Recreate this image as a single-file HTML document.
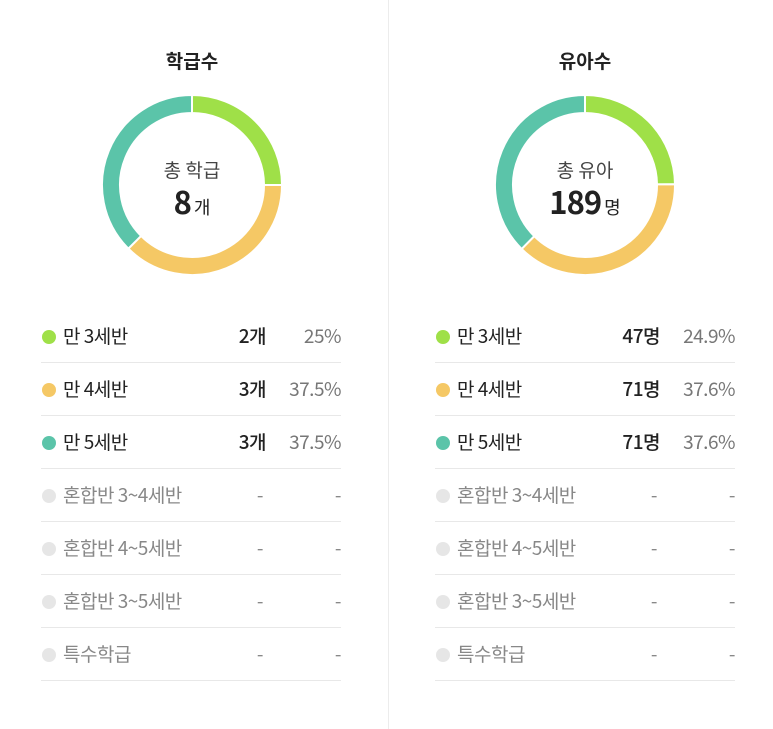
<!DOCTYPE html>
<html><head><meta charset="utf-8">
<style>
body{margin:0;width:773px;height:729px;background:#fff;font-family:"Liberation Sans","Noto Sans CJK KR",sans-serif;position:relative;overflow:hidden}
.divider{position:absolute;left:388px;top:0;width:1px;height:729px;background:#ececec}
.panel{position:absolute;top:0;width:300px}
.title{position:absolute;top:48px;left:0;width:300px;text-align:center;font-size:19px;font-weight:bold;color:#222;font-family:"Noto Sans CJK KR",sans-serif;line-height:26px}
.row{position:absolute;left:0;width:300px;height:52px;border-bottom:1px solid #e8e8e8;font-size:19px;font-family:"Noto Sans CJK KR",sans-serif;line-height:26px}
.dot{position:absolute;left:1px;top:20px;width:14px;height:14px;border-radius:50%}
.lab{position:absolute;left:22px;top:13px;color:#222;letter-spacing:-0.5px}
.num{position:absolute;right:75px;top:13px;color:#222;font-weight:500;letter-spacing:-0.5px}
.pct{position:absolute;right:0;top:13px;color:#777;letter-spacing:-0.5px}
.empty .lab,.empty .num,.empty .pct{color:#888;font-weight:normal}
svg text{font-family:"Noto Sans CJK KR",sans-serif}
</style></head><body>
<div class="divider"></div>
<div id="root"></div>
<script>
const categories=["만 3세반","만 4세반","만 5세반","혼합반 3~4세반","혼합반 4~5세반","혼합반 3~5세반","특수학급"];
const colors=["#9fe048","#f5c865","#5bc4a9","#e6e6e6","#e6e6e6","#e6e6e6","#e6e6e6"];
const classCounts=[2,3,3,0,0,0,0];
const childCounts=[47,71,71,0,0,0,0];
const panels=[
 {name:"class",title:"학급수",center:"총 학급",unit:"개",vals:classCounts,left:41,cx:192},
 {name:"child",title:"유아수",center:"총 유아",unit:"명",vals:childCounts,left:435,cx:585}
];
const NS="http://www.w3.org/2000/svg";
const root=document.getElementById('root');
function fmtPct(v,t){let p=Math.round(v/t*1000)/10;return (Number.isInteger(p)?p:p.toFixed(1))+"%";}
panels.forEach(p=>{
 const total=p.vals.reduce((a,b)=>a+b,0);
 const panel=document.createElement('div');
 panel.className='panel';panel.style.left=p.left+'px';
 
 
 root.appendChild(panel);
 const t=document.createElement('div');t.className='title';t.textContent=p.title;
 t.style.left=(p.cx-p.left-150)+'px';
 
 
 panel.appendChild(t);
 const svg=document.createElementNS(NS,'svg');
 svg.setAttribute('width',200);svg.setAttribute('height',200);
 svg.style.position='absolute';svg.style.left=(p.cx-p.left-100)+'px';svg.style.top='85px';
 
 
 panel.appendChild(svg);
 const R=90,r=72,c=100;
 let a0=0;
 p.vals.forEach((v,i)=>{
  if(!v)return;
  const a1=a0+v/total*Math.PI*2;
  const pt=(rad,a)=>[c+rad*Math.sin(a),c-rad*Math.cos(a)];
  const large=(a1-a0)>Math.PI?1:0;
  const [x1,y1]=pt(R,a0),[x2,y2]=pt(R,a1),[x3,y3]=pt(r,a1),[x4,y4]=pt(r,a0);
  const path=document.createElementNS(NS,'path');
  path.setAttribute('d',`M${x1},${y1}A${R},${R} 0 ${large} 1 ${x2},${y2}L${x3},${y3}A${r},${r} 0 ${large} 0 ${x4},${y4}Z`);
  path.setAttribute('fill',colors[i]);path.setAttribute('stroke','#fff');path.setAttribute('stroke-width','2');
  
  
  svg.appendChild(path);
  a0=a1;
 });
 const tl=document.createElementNS(NS,'text');
 tl.setAttribute('x',c);tl.setAttribute('y',92);tl.setAttribute('text-anchor','middle');
 tl.setAttribute('font-size','19');tl.setAttribute('fill','#444');tl.textContent=p.center;
 
 
 svg.appendChild(tl);
 const tv=document.createElementNS(NS,'text');
 tv.setAttribute('x',c);tv.setAttribute('y',129);tv.setAttribute('text-anchor','middle');tv.setAttribute('fill','#222');
 const s1=document.createElementNS(NS,'tspan');s1.setAttribute('font-size','31');s1.setAttribute('font-weight','bold');s1.setAttribute('letter-spacing','-1');s1.textContent=total;
 const s2=document.createElementNS(NS,'tspan');s2.setAttribute('font-size','18');s2.setAttribute('dx','3');s2.textContent=p.unit;
 tv.appendChild(s1);tv.appendChild(s2);
 
 
 svg.appendChild(tv);
 categories.forEach((cat,i)=>{
  const v=p.vals[i];
  const row=document.createElement('div');
  row.className='row'+(v?'':' empty');row.style.top=(310+i*53)+'px';
  
  
  const d=document.createElement('div');d.className='dot';d.style.background=colors[i];
  
  
  const l=document.createElement('div');l.className='lab';l.textContent=cat;
  
  
  const n=document.createElement('div');n.className='num';n.textContent=v?v+p.unit:'-';
  if(!v)n.style.right='78px';
  
  
  const pc=document.createElement('div');pc.className='pct';pc.textContent=v?fmtPct(v,total):'-';
  
  
  row.appendChild(d);row.appendChild(l);row.appendChild(n);row.appendChild(pc);
  panel.appendChild(row);
 });
});
</script>
</body></html>
